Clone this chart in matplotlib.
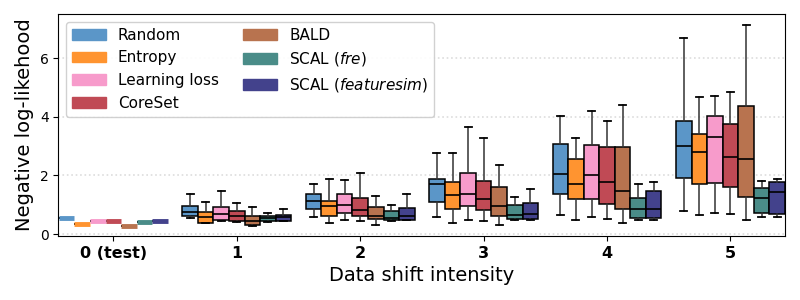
import matplotlib

matplotlib.use("Agg")
import matplotlib.pyplot as plt
import numpy as np
from matplotlib.patches import Patch


INTENSITIES = ["0 (test)", "1", "2", "3", "4", "5"]
METHODS = ["Random", "Entropy", "Learning loss", "CoreSet", "BALD", "SCAL (fre)", "SCAL (featuresim)"]
LEGEND_LABELS = [
    "Random",
    "Entropy",
    "Learning loss",
    "CoreSet",
    "BALD",
    r"SCAL ($\it{fre}$)",
    r"SCAL ($\it{featuresim}$)",
]
COLORS = ["#5b96c8", "#ff9430", "#f79bcb", "#c04a55", "#b8734f", "#4a8c88", "#43428c"]

# box statistics per method, one value per shift intensity
WHISKER_LOW = {
    "Random": [0.55, 0.55, 0.59, 0.59, 0.65, 0.79],
    "Entropy": [0.35, 0.39, 0.39, 0.39, 0.48, 0.65],
    "Learning loss": [0.45, 0.45, 0.48, 0.48, 0.59, 0.73],
    "CoreSet": [0.45, 0.42, 0.46, 0.46, 0.52, 0.70],
    "BALD": [0.28, 0.29, 0.32, 0.31, 0.39, 0.48],
    "SCAL (fre)": [0.42, 0.42, 0.45, 0.47, 0.48, 0.59],
    "SCAL (featuresim)": [0.45, 0.43, 0.47, 0.47, 0.48, 0.59],
}
Q1 = {
    "Random": [0.55, 0.63, 0.86, 1.10, 1.35, 1.92],
    "Entropy": [0.35, 0.39, 0.62, 0.86, 1.18, 1.72],
    "Learning loss": [0.45, 0.48, 0.73, 0.95, 1.21, 1.75],
    "CoreSet": [0.45, 0.43, 0.62, 0.82, 1.04, 1.62],
    "BALD": [0.28, 0.32, 0.52, 0.61, 0.84, 1.27],
    "SCAL (fre)": [0.42, 0.46, 0.47, 0.52, 0.55, 0.73],
    "SCAL (featuresim)": [0.45, 0.46, 0.49, 0.52, 0.55, 0.70],
}
MEDIAN = {
    "Random": [0.55, 0.74, 1.14, 1.72, 2.05, 3.01],
    "Entropy": [0.35, 0.57, 0.96, 1.34, 1.72, 2.80],
    "Learning loss": [0.45, 0.69, 0.98, 1.37, 2.03, 3.31],
    "CoreSet": [0.45, 0.61, 0.82, 1.18, 1.76, 2.64],
    "BALD": [0.28, 0.46, 0.60, 0.95, 1.47, 2.56],
    "SCAL (fre)": [0.42, 0.55, 0.55, 0.66, 0.84, 1.23],
    "SCAL (featuresim)": [0.45, 0.57, 0.60, 0.69, 0.86, 1.44],
}
Q3 = {
    "Random": [0.55, 0.95, 1.38, 1.87, 3.07, 3.86],
    "Entropy": [0.35, 0.74, 1.14, 1.77, 2.55, 3.40],
    "Learning loss": [0.45, 0.91, 1.37, 2.07, 3.03, 4.02],
    "CoreSet": [0.45, 0.78, 1.22, 1.80, 2.97, 3.74],
    "BALD": [0.28, 0.61, 0.91, 1.60, 2.97, 4.36],
    "SCAL (fre)": [0.42, 0.63, 0.79, 0.98, 1.22, 1.56],
    "SCAL (featuresim)": [0.45, 0.65, 0.89, 1.06, 1.46, 1.77],
}
WHISKER_HIGH = {
    "Random": [0.55, 1.35, 1.72, 2.77, 4.03, 6.68],
    "Entropy": [0.35, 1.10, 1.88, 2.77, 3.29, 4.68],
    "Learning loss": [0.45, 1.48, 1.85, 3.65, 4.21, 4.71],
    "CoreSet": [0.45, 1.07, 2.09, 3.28, 3.86, 4.85],
    "BALD": [0.28, 0.93, 1.30, 2.34, 4.40, 7.13],
    "SCAL (fre)": [0.42, 0.73, 1.00, 1.27, 1.72, 1.81],
    "SCAL (featuresim)": [0.45, 0.84, 1.38, 1.55, 1.78, 1.87],
}


def create_plot() -> None:
    figure, axis = plt.subplots(figsize=(8, 3), dpi=100)
    figure.subplots_adjust(left=0.073, right=0.981, top=0.953, bottom=0.213)

    centers = np.arange(len(INTENSITIES), dtype=np.float64)
    box_width = 0.126
    for method_index, method in enumerate(METHODS):
        offset = (method_index - (len(METHODS) - 1) / 2) * box_width
        stats = []
        for level in range(len(INTENSITIES)):
            stats.append(
                {
                    "whislo": WHISKER_LOW[method][level],
                    "q1": Q1[method][level],
                    "med": MEDIAN[method][level],
                    "q3": Q3[method][level],
                    "whishi": WHISKER_HIGH[method][level],
                    "fliers": [],
                }
            )
        color = COLORS[method_index]
        axis.bxp(
            stats,
            positions=centers + offset,
            widths=box_width,
            patch_artist=True,
            showfliers=False,
            boxprops={"facecolor": color, "edgecolor": "black", "linewidth": 1.1},
            medianprops={"color": "black", "linewidth": 1.2},
            whiskerprops={"color": "#333333", "linewidth": 1.1},
            capprops={"color": "black", "linewidth": 1.3},
            capwidths=box_width * 0.45,
            manage_ticks=False,
        )
        # the test column has zero spread: draw it as a thick coloured bar
        axis.hlines(
            MEDIAN[method][0],
            centers[0] + offset - box_width / 2,
            centers[0] + offset + box_width / 2,
            color=color,
            linewidth=3.5,
            zorder=3,
        )

    axis.set_xticks(centers, INTENSITIES, fontsize=11.5, fontweight="bold")
    axis.set_xlim(-0.445, 5.44)
    axis.set_ylim(-0.07, 7.5)
    axis.set_yticks([0, 2, 4, 6])
    axis.tick_params(axis="y", labelsize=10)
    axis.set_xlabel("Data shift intensity", fontsize=14)
    axis.set_ylabel("Negative log-likehood", fontsize=14)
    axis.grid(axis="y", color="#dddddd", linestyle=":", linewidth=1.2)
    axis.set_axisbelow(True)

    handles = [
        Patch(facecolor=color, edgecolor=color, label=label)
        for color, label in zip(COLORS, LEGEND_LABELS)
    ]
    axis.legend(
        handles=handles,
        loc="upper left",
        ncol=2,
        fontsize=11,
        handlelength=2.2,
        columnspacing=1.6,
        framealpha=0.9,
    )
    figure.savefig("out.png", dpi=100)
    plt.close(figure)


if __name__ == "__main__":
    create_plot()
